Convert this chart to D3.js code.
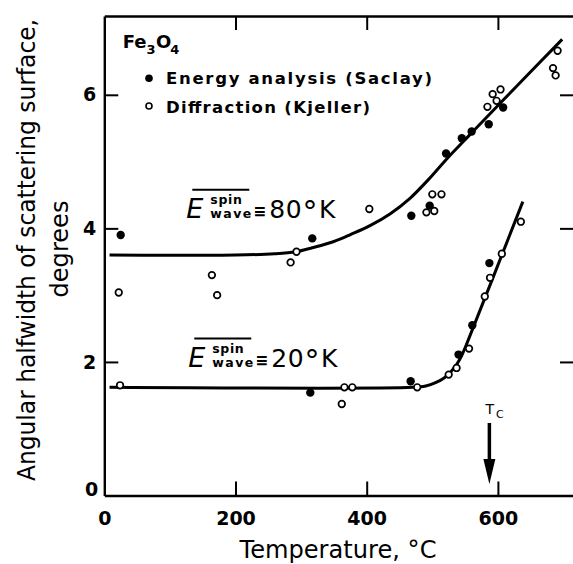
<!DOCTYPE html>
<html><head><meta charset="utf-8">
<script src="https://cdn.jsdelivr.net/npm/d3@7"></script>
<style>html,body{margin:0;padding:0;background:#fff;} svg{display:block;}</style>
</head><body><svg id="c" width="573" height="564"></svg>
<script>
// ---- data ----
const xTicks = [0, 200, 400, 600];
const yTicks = [0, 2, 4, 6];
const xTitle = "Temperature, \u00B0C";
const yTitle1 = "Angular halfwidth of scattering surface,";
const yTitle2 = "degrees";
const legendLabels = ["Energy analysis (Saclay)", "Diffraction (Kjeller)"];
// Energy analysis (Saclay) — filled circles  [T (°C), halfwidth (deg)]
const saclay = [[25,3.90],[317,3.85],[468,4.19],[496,4.34],[521,5.12],[545,5.35],[560,5.45],[586,5.56],[608,5.81],
                [314,1.54],[467,1.71],[540,2.11],[561,2.55],[587,3.48]];
// Diffraction (Kjeller) — open circles
const kjeller = [[22,3.04],[164,3.30],[172,3.00],[284,3.49],[293,3.65],[404,4.29],[491,4.24],[500,4.51],[503,4.26],[514,4.51],
                 [584,5.82],[592,6.01],[598,5.91],[604,6.08],[684,6.40],[688,6.29],[691,6.66],
                 [24,1.65],[362,1.37],[366,1.62],[378,1.62],[477,1.62],[525,1.81],[537,1.91],[556,2.20],[580,2.98],[588,3.26],[606,3.62],[635,4.10]];
// fitted curves
const curve80 = [[8,3.60],[200,3.60],[260,3.62],[292,3.65],[317,3.71],[349,3.80],[376,3.91],[405,4.04],[436,4.22],[466,4.45],[494,4.73],[522,5.04],[560,5.43],[610,5.94],[698,6.83]];
const curve20 = [[8,1.62],[470,1.62],[490,1.64],[505,1.69],[518,1.76],[528,1.85],[537,1.96],[545,2.10],[552,2.26],[638,4.40]];
const curveLabels = [{v:"80", at:[125,4.16]}, {v:"20", at:[128,1.93]}];
const curieT = 587;

// ---- drawing ----
const svg = d3.select("#c");
svg.append("rect").attr("width",573).attr("height",564).attr("fill","#fff");
const x = d3.scaleLinear().domain([0,716]).range([104.3,574]);
const y = d3.scaleLinear().domain([0,7.18]).range([495.5,16]);
const FONT = "'DejaVu Sans', sans-serif";

function styleAxis(g, showLabels){
  g.select(".domain").attr("stroke","#000").attr("stroke-width",2.4);
  g.selectAll(".tick line").attr("stroke","#000").attr("stroke-width",2);
  g.selectAll(".tick").filter(d=>d===0).select("line").remove();
  if(!showLabels) g.selectAll(".tick text").remove();
  else g.selectAll(".tick text").attr("font-family",FONT).attr("font-weight","bold").attr("font-size",19).attr("fill","#000");
}
const gb = svg.append("g").attr("transform",`translate(0,${y(0)})`)
  .call(d3.axisBottom(x).tickValues(xTicks).tickSize(-14).tickSizeOuter(0).tickPadding(16).tickFormat(d3.format("d")));
styleAxis(gb,true);
const gt = svg.append("g").attr("transform",`translate(0,${y.range()[1]})`)
  .call(d3.axisTop(x).tickValues(xTicks).tickSize(-14).tickSizeOuter(0));
styleAxis(gt,false);
const gl = svg.append("g").attr("transform",`translate(${x(0)},0)`)
  .call(d3.axisLeft(y).tickValues(yTicks).tickSize(-14).tickSizeOuter(0).tickPadding(8).tickFormat(d3.format("d")));
styleAxis(gl,true);
gl.selectAll(".tick").filter(d=>d===0).select("text").attr("y",-6).attr("x",-6);
const gr = svg.append("g").attr("transform",`translate(${x.range()[1]},0)`)
  .call(d3.axisRight(y).tickValues(yTicks).tickSize(-14).tickSizeOuter(0));
styleAxis(gr,false);

// curves
const line = d3.line().x(d=>x(d[0])).y(d=>y(d[1])).curve(d3.curveCatmullRom.alpha(0.5));
[curve80, curve20].forEach(c=>{
  svg.append("path").attr("d",line(c)).attr("fill","none").attr("stroke","#000").attr("stroke-width",3);
});

// points
svg.append("g").selectAll("circle").data(kjeller).join("circle")
  .attr("cx",d=>x(d[0])).attr("cy",d=>y(d[1])).attr("r",3.3)
  .attr("fill","#fff").attr("stroke","#000").attr("stroke-width",1.7);
svg.append("g").selectAll("circle").data(saclay).join("circle")
  .attr("cx",d=>x(d[0])).attr("cy",d=>y(d[1])).attr("r",4.2).attr("fill","#000");

// axis titles
svg.append("text").attr("x",338).attr("y",558).attr("text-anchor","middle")
  .attr("font-family",FONT).attr("font-size",24).attr("textLength",197).attr("lengthAdjust","spacingAndGlyphs").text(xTitle);
svg.append("text").attr("transform","translate(35,250) rotate(-90)").attr("text-anchor","middle")
  .attr("font-family",FONT).attr("font-size",24).attr("textLength",462).attr("lengthAdjust","spacingAndGlyphs").text(yTitle1);
svg.append("text").attr("transform","translate(68,249) rotate(-90)").attr("text-anchor","middle")
  .attr("font-family",FONT).attr("font-size",24).attr("textLength",97).attr("lengthAdjust","spacingAndGlyphs").text(yTitle2);

// Fe3O4 and legend
const fe = svg.append("text").attr("x",122.7).attr("y",48.3).attr("font-family",FONT).attr("font-weight","bold").attr("font-size",18);
fe.append("tspan").text("Fe");
fe.append("tspan").attr("font-size",13).attr("dy",6).text("3");
fe.append("tspan").attr("dy",-6).attr("dx",0.5).text("O");
fe.append("tspan").attr("font-size",13).attr("dy",6).attr("dx",-1).text("4");
svg.append("circle").attr("cx",149).attr("cy",78.3).attr("r",3.8).attr("fill","#000");
svg.append("circle").attr("cx",149).attr("cy",106).attr("r",3).attr("fill","#fff").attr("stroke","#000").attr("stroke-width",1.6);
svg.append("text").attr("x",166).attr("y",84.3).attr("font-family",FONT).attr("font-weight","bold").attr("font-size",16.5)
  .attr("textLength",266).attr("lengthAdjust","spacing").text(legendLabels[0]);
svg.append("text").attr("x",166).attr("y",112.7).attr("font-family",FONT).attr("font-weight","bold").attr("font-size",16.5)
  .attr("textLength",204).attr("lengthAdjust","spacing").text(legendLabels[1]);

// curve labels  E(spin wave) ≡ ..°K
curveLabels.forEach(L=>{
  const bx = x(L.at[0]), by = y(L.at[1]);
  const g = svg.append("g").attr("font-family",FONT);
  g.append("line").attr("x1",bx+6).attr("x2",bx+63).attr("y1",by-28).attr("y2",by-28).attr("stroke","#000").attr("stroke-width",2);
  g.append("text").attr("x",bx).attr("y",by).attr("font-size",27).attr("font-style","italic").text("E");
  g.append("text").attr("x",bx+24).attr("y",by-14).attr("font-size",12.5).attr("font-weight","bold")
    .attr("textLength",31.5).attr("lengthAdjust","spacing").text("spin");
  g.append("text").attr("x",bx+24).attr("y",by).attr("font-size",12.5).attr("font-weight","bold")
    .attr("textLength",41).attr("lengthAdjust","spacing").text("wave");
  g.append("text").attr("x",bx+67).attr("y",by-1).attr("font-size",17).attr("font-weight","bold")
    .attr("textLength",13).attr("lengthAdjust","spacingAndGlyphs").text("\u2261");
  const t = g.append("text").attr("x",bx+83).attr("y",by).attr("font-size",25);
  t.append("tspan").attr("letter-spacing",0.5).text(L.v);
  t.append("tspan").attr("font-size",30).attr("dy",4).attr("dx",0.5).text("\u00B0");
  t.append("tspan").attr("dy",-4).attr("dx",1.5).text("K");
});

// T_C arrow
const ax = x(curieT);
svg.append("line").attr("x1",ax).attr("x2",ax).attr("y1",423).attr("y2",462).attr("stroke","#000").attr("stroke-width",3.5);
svg.append("path").attr("d",`M${ax-6},459 L${ax+6},459 L${ax},484 Z`).attr("fill","#000");
const tc = svg.append("text").attr("x",ax-4).attr("y",413.5).attr("font-family",FONT).attr("font-size",14);
tc.append("tspan").text("T");
tc.append("tspan").attr("font-size",11).attr("dy",4).attr("dx",2).text("C");
</script></body></html>
